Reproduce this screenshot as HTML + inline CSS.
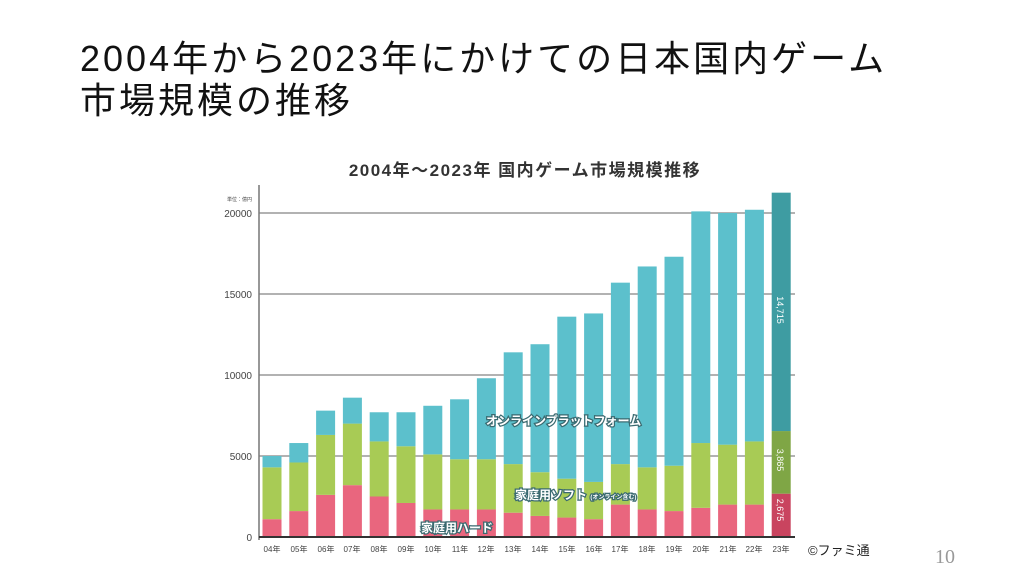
<!DOCTYPE html>
<html><head><meta charset="utf-8"><style>
body{margin:0;width:1024px;height:576px;background:#fff;overflow:hidden;position:relative;font-family:"Liberation Sans","Noto Sans CJK JP",sans-serif}
.t{position:absolute;left:80px;top:38px;font-size:36px;line-height:42px;color:#111;letter-spacing:3px;white-space:nowrap}
.pg{position:absolute;left:935px;top:546px;font-size:20px;color:#999;font-family:"Liberation Serif",serif}
.cr{position:absolute;left:808px;top:540px;font-size:13px;color:#222}
</style></head><body>
<div class="t">2004年から2023年にかけての日本国内ゲーム<br>市場規模の推移</div>
<svg width="1024" height="576" style="position:absolute;left:0;top:0" font-family="Liberation Sans, Noto Sans CJK JP, sans-serif">
<text x="525" y="176" text-anchor="middle" font-size="17" font-weight="bold" fill="#333" letter-spacing="1.5">2004年～2023年 国内ゲーム市場規模推移</text>
<g stroke="#999" stroke-width="1.5">
<line x1="259" y1="213" x2="795" y2="213"/><line x1="259" y1="294" x2="795" y2="294"/>
<line x1="259" y1="375" x2="795" y2="375"/><line x1="259" y1="456" x2="795" y2="456"/>
</g>
<line x1="259" y1="185" x2="259" y2="540" stroke="#777" stroke-width="1.5"/>
<g font-size="10" fill="#444" text-anchor="end">
<text x="252" y="201" font-size="5">単位：億円</text>
<text x="252" y="217">20000</text><text x="252" y="298">15000</text><text x="252" y="379">10000</text><text x="252" y="460">5000</text><text x="252" y="541">0</text>
</g>
<g transform="translate(0,537) scale(1,-0.0162)">
<g fill="#e9667e">
<rect x="262.5" y="0" width="19" height="1100"/><rect x="289.3" y="0" width="19" height="1600"/><rect x="316.1" y="0" width="19" height="2600"/><rect x="342.9" y="0" width="19" height="3200"/><rect x="369.7" y="0" width="19" height="2500"/><rect x="396.5" y="0" width="19" height="2100"/><rect x="423.3" y="0" width="19" height="1700"/><rect x="450.1" y="0" width="19" height="1700"/><rect x="476.9" y="0" width="19" height="1700"/><rect x="503.7" y="0" width="19" height="1500"/><rect x="530.5" y="0" width="19" height="1300"/><rect x="557.3" y="0" width="19" height="1200"/><rect x="584.1" y="0" width="19" height="1100"/><rect x="610.9" y="0" width="19" height="2000"/><rect x="637.7" y="0" width="19" height="1700"/><rect x="664.5" y="0" width="19" height="1600"/><rect x="691.3" y="0" width="19" height="1800"/><rect x="718.1" y="0" width="19" height="2000"/><rect x="744.9" y="0" width="19" height="2000"/>
</g>
<g fill="#a8cb55">
<rect x="262.5" y="1100" width="19" height="3200"/><rect x="289.3" y="1600" width="19" height="3000"/><rect x="316.1" y="2600" width="19" height="3700"/><rect x="342.9" y="3200" width="19" height="3800"/><rect x="369.7" y="2500" width="19" height="3400"/><rect x="396.5" y="2100" width="19" height="3500"/><rect x="423.3" y="1700" width="19" height="3400"/><rect x="450.1" y="1700" width="19" height="3100"/><rect x="476.9" y="1700" width="19" height="3100"/><rect x="503.7" y="1500" width="19" height="3000"/><rect x="530.5" y="1300" width="19" height="2700"/><rect x="557.3" y="1200" width="19" height="2400"/><rect x="584.1" y="1100" width="19" height="2300"/><rect x="610.9" y="2000" width="19" height="2500"/><rect x="637.7" y="1700" width="19" height="2600"/><rect x="664.5" y="1600" width="19" height="2800"/><rect x="691.3" y="1800" width="19" height="4000"/><rect x="718.1" y="2000" width="19" height="3700"/><rect x="744.9" y="2000" width="19" height="3900"/>
</g>
<g fill="#5cc0cc">
<rect x="262.5" y="4300" width="19" height="700"/><rect x="289.3" y="4600" width="19" height="1200"/><rect x="316.1" y="6300" width="19" height="1500"/><rect x="342.9" y="7000" width="19" height="1600"/><rect x="369.7" y="5900" width="19" height="1800"/><rect x="396.5" y="5600" width="19" height="2100"/><rect x="423.3" y="5100" width="19" height="3000"/><rect x="450.1" y="4800" width="19" height="3700"/><rect x="476.9" y="4800" width="19" height="5000"/><rect x="503.7" y="4500" width="19" height="6900"/><rect x="530.5" y="4000" width="19" height="7900"/><rect x="557.3" y="3600" width="19" height="10000"/><rect x="584.1" y="3400" width="19" height="10400"/><rect x="610.9" y="4500" width="19" height="11200"/><rect x="637.7" y="4300" width="19" height="12400"/><rect x="664.5" y="4400" width="19" height="12900"/><rect x="691.3" y="5800" width="19" height="14300"/><rect x="718.1" y="5700" width="19" height="14300"/><rect x="744.9" y="5900" width="19" height="14300"/>
</g>
<rect x="771.7" y="0" width="19" height="2675" fill="#c9445f"/>
<rect x="771.7" y="2675" width="19" height="3865" fill="#7fa645"/>
<rect x="771.7" y="6540" width="19" height="14715" fill="#3e9ca2"/>
</g>
<line x1="259" y1="537" x2="795" y2="537" stroke="#333" stroke-width="2"/>
<g font-size="8" fill="#444" text-anchor="middle">
<text x="272" y="552">04年</text><text x="299" y="552">05年</text><text x="326" y="552">06年</text><text x="352" y="552">07年</text><text x="379" y="552">08年</text><text x="406" y="552">09年</text><text x="433" y="552">10年</text><text x="460" y="552">11年</text><text x="486" y="552">12年</text><text x="513" y="552">13年</text><text x="540" y="552">14年</text><text x="567" y="552">15年</text><text x="594" y="552">16年</text><text x="620" y="552">17年</text><text x="647" y="552">18年</text><text x="674" y="552">19年</text><text x="701" y="552">20年</text><text x="728" y="552">21年</text><text x="754" y="552">22年</text><text x="781" y="552">23年</text>
</g>
<g font-size="12" font-weight="bold" fill="#fff" stroke="#3a6a70" stroke-width="2.5" paint-order="stroke">
<text x="486" y="425">オンラインプラットフォーム</text>
<text x="515" y="499">家庭用ソフト <tspan font-size="6">(オンライン含む)</tspan></text>
<text x="421" y="532">家庭用ハード</text>
</g>
<g font-size="9" fill="#fff" text-anchor="middle">
<text transform="translate(777,310) rotate(90)">14,715</text>
<text transform="translate(777,460) rotate(90)">3,865</text>
<text transform="translate(777,510) rotate(90)">2,675</text>
</g>
</svg>
<div class="cr">©ファミ通</div>
<div class="pg">10</div>
</body></html>
